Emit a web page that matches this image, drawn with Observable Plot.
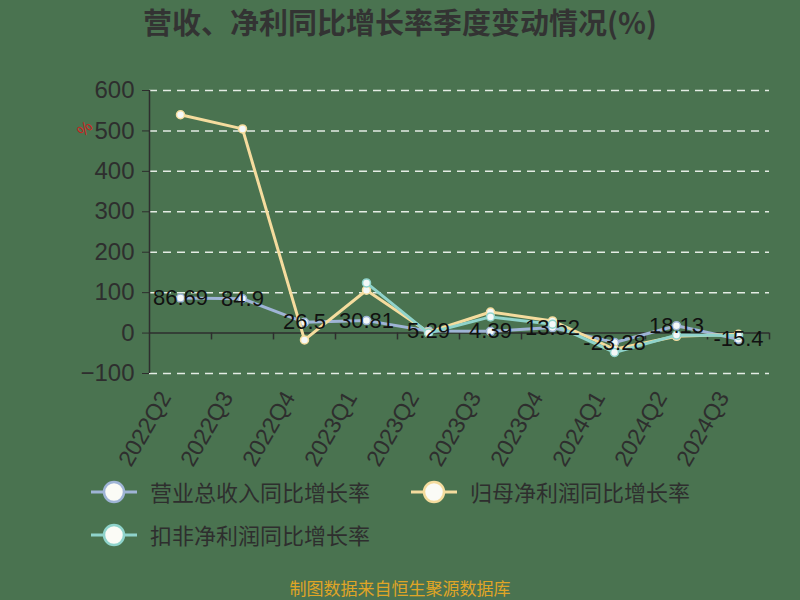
<!DOCTYPE html>
<html>
<head>
<meta charset="utf-8">
<script src="https://cdn.jsdelivr.net/npm/d3@7"></script>
<script src="https://cdn.jsdelivr.net/npm/@observablehq/plot@0.6"></script>
<style>
  html, body { margin:0; padding:0; }
  body { width:800px; height:600px; background:#4a7350; position:relative; overflow:hidden;
         font-family:"Liberation Sans","Noto Sans CJK SC",sans-serif; }
  #title { position:absolute; left:0; top:3px; width:800px; text-align:center; font-size:29px; font-weight:bold; color:#333;
           font-family:"Noto Sans CJK SC",sans-serif; line-height:1.3; }
  #chart { position:absolute; left:0; top:45px; }
  .leg { position:absolute; font-size:22px; color:#2e2e2e; font-family:"Noto Sans CJK SC",sans-serif; line-height:1; }
  #footer { position:absolute; left:0; top:579px; width:800px; text-align:center; font-size:17px; color:#e0a526;
            font-family:"Noto Sans CJK SC",sans-serif; line-height:1; }
  #unit { position:absolute; left:78px; top:120px; color:#cc2222; font-size:16px; transform:rotate(-45deg); }
</style>
</head>
<body>
<div id="title">营收、净利同比增长率季度变动情况(%)</div>
<div id="unit">%</div>
<div id="chart"></div>
<div id="legend"></div>
<div id="footer">制图数据来自恒生聚源数据库</div>
<script>
const quarters = ["2022Q2","2022Q3","2022Q4","2023Q1","2023Q2","2023Q3","2023Q4","2024Q1","2024Q2","2024Q3"];
const revenue = [86.69, 84.9, 26.5, 30.81, 5.29, 4.39, 13.52, -23.28, 18.13, -15.4];
const netProfit = [540, 505, -17, 106, 2, 52, 30, -40, -8, -3];
const deducted = [null, null, null, 124, 0, 40, 22, -48, -5, -6];
const yTicks = [-100, 0, 100, 200, 300, 400, 500, 600];
const seriesNames = ["营业总收入同比增长率", "归母净利润同比增长率", "扣非净利润同比增长率"];
const colors = ["#9fb4d6", "#f5dc9e", "#8fd3cb"];

const mk = vals => quarters.map((q, i) => ({q, v: vals[i]})).filter(d => d.v !== null);
const revData = mk(revenue), npData = mk(netProfit), dedData = mk(deducted);

const lineMarks = (data, c) => [
  Plot.line(data, {x: "q", y: "v", stroke: c, strokeWidth: 3}),
  Plot.dot(data, {x: "q", y: "v", r: 4, fill: "#f4f8f8", stroke: c, strokeWidth: 1.5})
];

const chart = Plot.plot({
  width: 800, height: 430,
  marginTop: 45, marginBottom: 102, marginLeft: 149, marginRight: 31,
  style: {background: "transparent", color: "#2e2e2e", fontFamily: "Liberation Sans, sans-serif"},
  x: {type: "point", domain: quarters, padding: 0.5},
  y: {domain: [-100, 600]},
  marks: [
    Plot.gridY(yTicks.filter(d => d !== 0), {stroke: "#e4ece4", strokeOpacity: 1, strokeWidth: 1.5, strokeDasharray: "8,6"}),
    Plot.axisY(yTicks, {tickSize: 7, tickPadding: 8, fontSize: 24, stroke: "#2e2e2e", fill: "#2e2e2e", label: null}),
    Plot.axisX({tickRotate: -60, tickSize: 0, tickPadding: 20, fontSize: 23, fill: "#2e2e2e", label: null, dx: -15}),
    Plot.ruleY([0], {stroke: "#2e2e2e", strokeWidth: 1.5}),
    Plot.ruleX([quarters[0]], {dx: -31, y1: -100, y2: 600, stroke: "#2e2e2e", strokeWidth: 1.5}),
    Plot.ruleX(quarters.slice(1), {dx: -31, y1: 0, y2: -17, stroke: "#2e2e2e", strokeWidth: 1.5}),
    Plot.ruleX([quarters[quarters.length - 1]], {dx: 31, y1: 0, y2: -17, stroke: "#2e2e2e", strokeWidth: 1.5}),
    ...lineMarks(revData, colors[0]),
    ...lineMarks(npData, colors[1]),
    ...lineMarks(dedData, colors[2]),
    Plot.text(revData, {x: "q", y: "v", text: d => String(d.v), fontSize: 22, fill: "#111"})
  ]
});
document.getElementById("chart").appendChild(chart);

// legend
const legPos = [[90, 492], [410, 492], [90, 535]];
const legend = document.getElementById("legend");
seriesNames.forEach((name, i) => {
  const [x, y] = legPos[i];
  const ns = "http://www.w3.org/2000/svg";
  const svg = document.createElementNS(ns, "svg");
  svg.setAttribute("width", 50); svg.setAttribute("height", 26);
  svg.style.position = "absolute"; svg.style.left = x + "px"; svg.style.top = (y - 13) + "px";
  const ln = document.createElementNS(ns, "line");
  ln.setAttribute("x1", 1); ln.setAttribute("x2", 47); ln.setAttribute("y1", 13); ln.setAttribute("y2", 13);
  ln.setAttribute("stroke", colors[i]); ln.setAttribute("stroke-width", 3);
  const c = document.createElementNS(ns, "circle");
  c.setAttribute("cx", 24); c.setAttribute("cy", 13); c.setAttribute("r", 10);
  c.setAttribute("fill", "#fbfbf6"); c.setAttribute("stroke", colors[i]); c.setAttribute("stroke-width", 2.5);
  svg.appendChild(ln); svg.appendChild(c);
  legend.appendChild(svg);
  const t = document.createElement("div");
  t.className = "leg"; t.textContent = name;
  t.style.left = (x + 60) + "px"; t.style.top = (y - 12) + "px";
  legend.appendChild(t);
});
</script>
</body>
</html>
